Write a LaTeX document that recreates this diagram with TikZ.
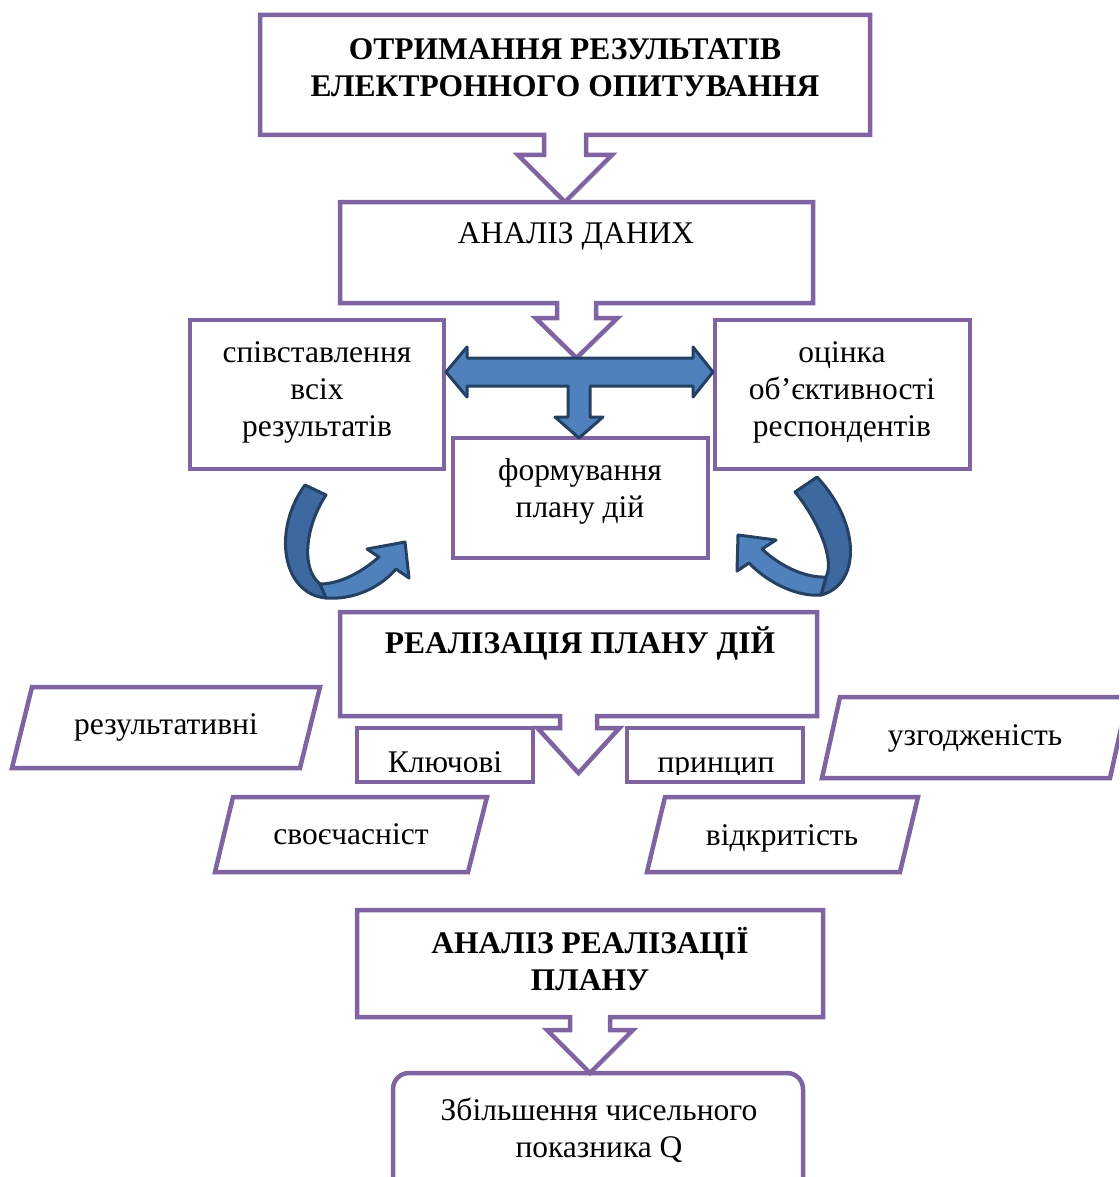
\documentclass[tikz,border=0pt]{standalone}
\usepackage{fontspec}
\setmainfont{Liberation Serif}
\usetikzlibrary{calc}
\definecolor{boxpurple}{RGB}{128,100,162}
\definecolor{arrowblue}{RGB}{79,129,189}
\definecolor{arrowdark}{RGB}{62,104,160}
\definecolor{arrowline}{RGB}{36,64,98}
\newcommand{\mlines}[1]{\begin{tabular}[t]{@{}c@{}}#1\end{tabular}}
\begin{document}
\begin{tikzpicture}[x=1pt,y=-1pt,
  frame/.style={draw=boxpurple,line width=4.5pt,line join=miter,fill=white},
  shapenode/.style={rectangle,inner sep=0pt,outer sep=0pt},
  boxnode/.style={shapenode,frame},
  txt/.style={font=\fontsize{31.5}{37}\selectfont,anchor=base,inner sep=0pt},
  btxt/.style={anchor=base,inner sep=0pt,font=\fontsize{31.5}{37}\selectfont\bfseries},
  bluearrow/.style={fill=arrowblue,draw=arrowline,line width=3pt,line join=round},
  darkband/.style={fill=arrowdark,draw=arrowline,line width=3pt,line join=round}
]
\clip (0,0) rectangle (1119,1177);
\fill[white] (0,0) rectangle (1119,1177);

% ---------- geometry nodes ----------
\node[shapenode,minimum width=610,minimum height=120] (b1) at (565,75) {};
\node[shapenode,minimum width=473,minimum height=101] (b2) at (576.5,252.5) {};
\coordinate (tj) at (577,358);
\node[shapenode,minimum width=477,minimum height=104] (b5) at (578.5,664) {};
\node[shapenode,minimum width=466,minimum height=107] (b6) at (590,963.5) {};

% ---------- callout 1 ----------
\draw[frame] (b1.north west) -- (b1.north east) -- (b1.south east)
  -- ($(b1.south)+(21,0)$) -- ($(b1.south)+(21,20)$) -- ($(b1.south)+(47,20)$)
  -- (b1.south |- b2.north)
  -- ($(b1.south)+(-47,20)$) -- ($(b1.south)+(-21,20)$) -- ($(b1.south)+(-21,0)$)
  -- (b1.south west) -- cycle;

% ---------- callout 2 ----------
\draw[frame] (b2.north west) -- (b2.north east) -- (b2.south east)
  -- ($(b2.south)+(19.5,0)$) -- ($(b2.south)+(19.5,15)$) -- ($(b2.south)+(41,15)$)
  -- (b2.south |- tj)
  -- ($(b2.south)+(-41,15)$) -- ($(b2.south)+(-19.5,15)$) -- ($(b2.south)+(-19.5,0)$)
  -- (b2.south west) -- cycle;

% ---------- three boxes ----------
\node[boxnode,minimum width=254,minimum height=149] (bl) at (317,394.5) {};
\node[boxnode,minimum width=255,minimum height=149] (br) at (842.5,394.5) {};
\node[boxnode,minimum width=255,minimum height=120] (bc) at (580.5,498) {};

% ---------- T arrow ----------
\draw[bluearrow] (446,372) -- (467,347) -- (467,358) -- (693,358) -- (693,347)
  -- (713,372) -- (693,397) -- (693,386) -- (590,386) -- (590,417) -- (603,417)
  -- (579,438) -- (555,417) -- (568,417) -- (568,386) -- (467,386) -- (467,397) -- cycle;

% ---------- curved arrow left ----------
\draw[darkband] (305,485) -- (326,495) .. controls (306,525) and (300,568) .. (320,584)
  -- (326,598) .. controls (282,594) and (272,530) .. (305,485) -- cycle;
\draw[bluearrow] (320,584) .. controls (340,584) and (362,572) .. (379,557)
  -- (367,549) -- (405,542) -- (409,578) -- (396,569)
  .. controls (378,590) and (350,600) .. (326,598) -- cycle;

% ---------- curved arrow right ----------
\draw[darkband] (817,477) -- (795,492) .. controls (818,520) and (835,560) .. (826,577)
  -- (821,595) .. controls (860,585) and (862,525) .. (817,477) -- cycle;
\draw[bluearrow] (826,577) .. controls (805,578) and (780,566) .. (762,549)
  -- (776,540) -- (738,535) -- (737,571) -- (749,563)
  .. controls (770,585) and (800,597) .. (821,595) -- cycle;

% ---------- callout 3 ----------
\draw[frame] (b5.north west) -- (b5.north east) -- (b5.south east)
  -- ($(b5.south)+(18.5,0)$) -- ($(b5.south)+(18.5,12)$) -- ($(b5.south)+(41,12)$)
  -- ($(b5.south)+(0,57)$)
  -- ($(b5.south)+(-41,12)$) -- ($(b5.south)+(-18.5,12)$) -- ($(b5.south)+(-18.5,0)$)
  -- (b5.south west) -- cycle;

% ---------- small boxes with clipped text ----------
\node[boxnode,minimum width=176,minimum height=54] (kl) at (445,755) {};
\node[boxnode,minimum width=176,minimum height=54] (kr) at (715,755) {};
\begin{scope}
  \clip (kl.north west) rectangle ($(kl.south east)+(0,-8)$);
  \node[txt] (tkl) at (445,772) {Ключові};
\end{scope}
\begin{scope}
  \clip (kr.north west) rectangle ($(kr.south east)+(0,-8)$);
  \node[txt] (tkr) at (716,772) {принцип};
\end{scope}

% ---------- parallelograms ----------
\draw[frame] (32,687) -- (320,687) -- (300,768) -- (12,768) -- cycle;
\draw[frame] (233,797) -- (487,797) -- (468,872) -- (215,872) -- cycle;
\draw[frame] (840,697) -- (1128,697) -- (1110,778) -- (822,778) -- cycle;
\draw[frame] (665,797) -- (918,797) -- (900,872) -- (647,872) -- cycle;

% ---------- bottom ----------
\node[boxnode,rounded corners=16pt,minimum width=410,minimum height=140] (bq) at (598,1143) {};
\draw[frame] (b6.north west) -- (b6.north east) -- (b6.south east)
  -- ($(b6.south)+(20,0)$) -- ($(b6.south)+(20,13)$) -- ($(b6.south)+(43,13)$)
  -- (b6.south |- bq.north)
  -- ($(b6.south)+(-43,13)$) -- ($(b6.south)+(-20,13)$) -- ($(b6.south)+(-20,0)$)
  -- (b6.south west) -- cycle;

% ---------- texts ----------
\node[btxt] (t1) at (565,60) {\mlines{ОТРИМАННЯ РЕЗУЛЬТАТІВ\\ЕЛЕКТРОННОГО ОПИТУВАННЯ}};
\node[txt] (t2) at (576,243) {АНАЛІЗ ДАНИХ};
\node[txt] (tl) at (317,362) {\mlines{співставлення\\всіх\\результатів}};
\node[txt] (tr) at (842,362) {\mlines{оцінка\\об’єктивності\\респондентів}};
\node[txt] (tc) at (580,480) {\mlines{формування\\плану дій}};
\node[btxt] (t5) at (580,653) {РЕАЛІЗАЦІЯ ПЛАНУ ДІЙ};
\node[txt] (p1) at (166,734) {результативні};
\node[txt] (p2) at (351,844) {своєчасніст};
\node[txt] (p3) at (975,745) {узгодженість};
\node[txt] (p4) at (782,845) {відкритість};
\node[btxt] (t6) at (590,953) {\mlines{АНАЛІЗ РЕАЛІЗАЦІЇ\\ПЛАНУ}};
\node[txt] (tq) at (599,1120) {\mlines{Збільшення чисельного\\показника Q}};
\end{tikzpicture}
\end{document}
